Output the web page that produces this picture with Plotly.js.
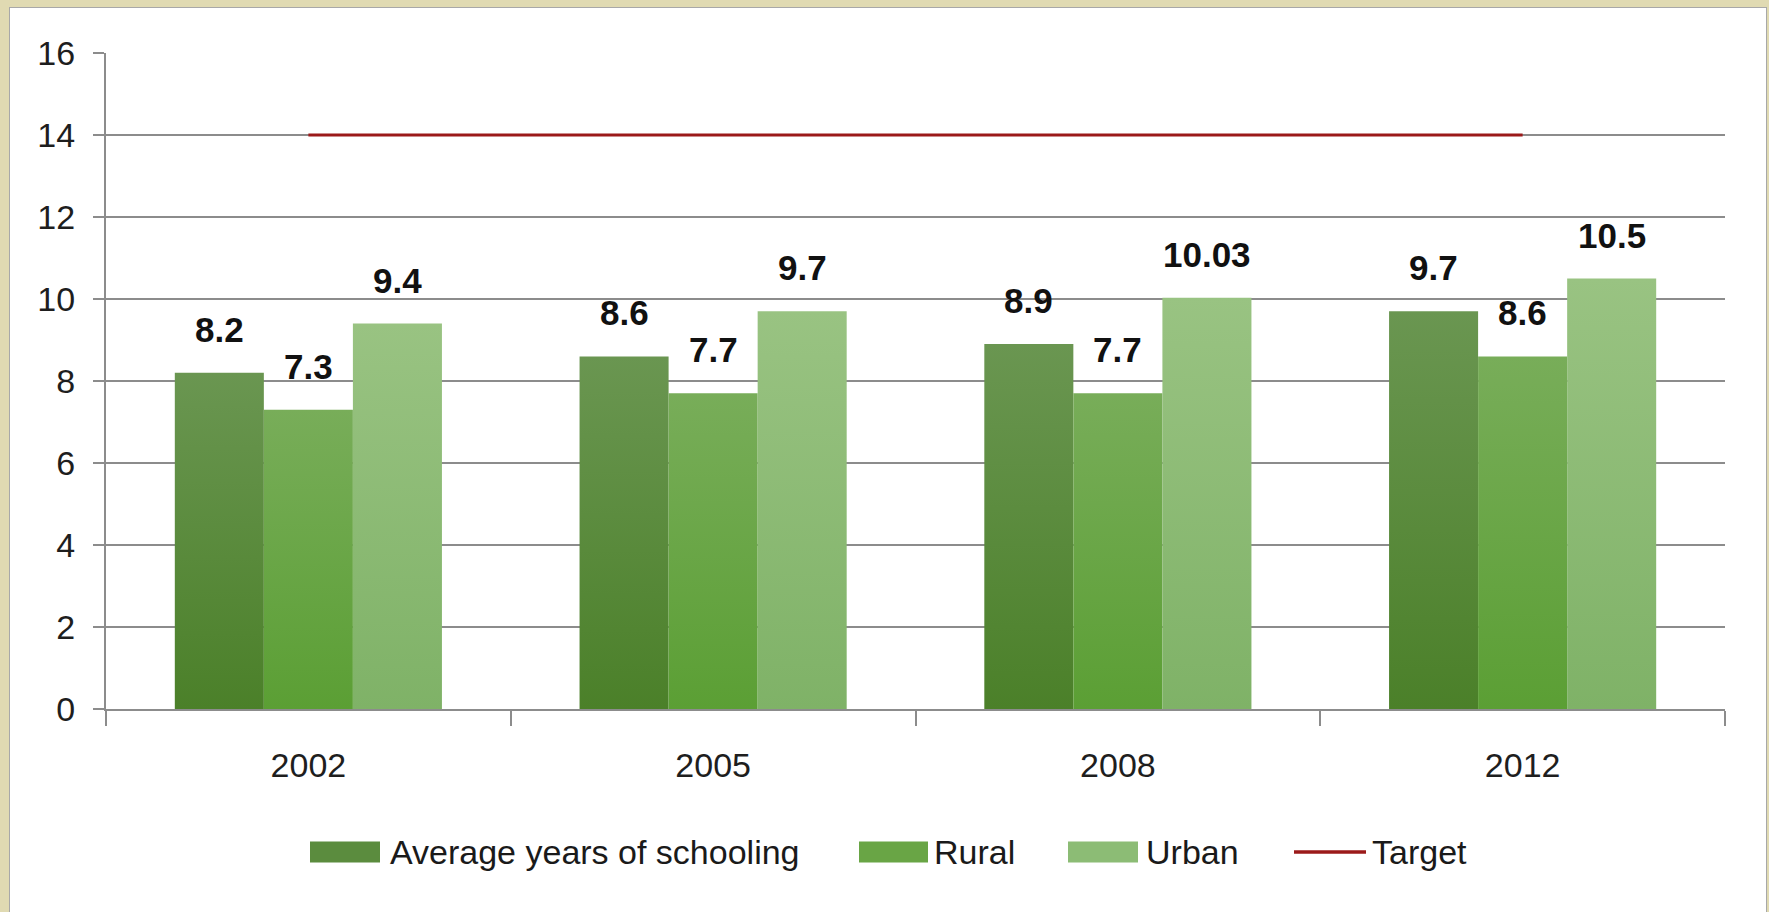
<!DOCTYPE html>
<html>
<head>
<meta charset="utf-8">
<script src="https://cdn.plot.ly/plotly-3.0.1.min.js"></script>
<style>
  html, body { margin: 0; padding: 0; background: #e0dab2; width: 1769px; height: 912px; overflow: hidden; }
  #chart { position: absolute; left: 10px; top: 8px; width: 1756px; height: 904px; background: #ffffff; outline: 1px solid #a8a8a8; }
</style>
</head>
<body>
<div id="chart"></div>
<script>
// ---- data ----
const years = ["2002", "2005", "2008", "2012"];
const seriesNames = ["Average years of schooling", "Rural", "Urban", "Target"];
const averageYears = [8.2, 8.6, 8.9, 9.7];
const rural = [7.3, 7.7, 7.7, 8.6];
const urban = [9.4, 9.7, 10.03, 10.5];
const target = [14, 14, 14, 14];
const labelText = {
  avg: ["8.2", "8.6", "8.9", "9.7"],
  rural: ["7.3", "7.7", "7.7", "8.6"],
  urban: ["9.4", "9.7", "10.03", "10.5"]
};

// ---- style ----
const barColors = ["#5b8c3e", "#69a545", "#8cbc75"];
const gradTop = ["#6a9651", "#78ad59", "#99c382"];
const gradBot = ["#4b8029", "#5b9f34", "#7fb267"];
const targetColor = "#9b1a1a";
const gridColor = "#8c8c8c";
const textFont = "'Liberation Sans', Arial, sans-serif";
const boldFont = "'Liberation Sans', Arial, sans-serif";

// plot geometry (absolute page px) for paper-coord helpers
const PL = 106, PR = 1725, PT = 53, PB = 709;
const px = x => (x - PL) / (PR - PL);
const py = y => (PB - y) / (PB - PT);

const bargap = 0.34;
const nBars = 3;
const bw = (1 - bargap) / nBars;

const barSeries = [averageYears, rural, urban];
const labelSeries = [labelText.avg, labelText.rural, labelText.urban];

const traces = barSeries.map((vals, i) => ({
  type: "bar",
  name: seriesNames[i],
  x: years,
  y: vals,
  marker: { color: barColors[i], line: { width: 0 } },
  hoverinfo: "skip"
}));
traces.push({
  type: "scatter",
  mode: "lines",
  name: seriesNames[3],
  x: years,
  y: target,
  line: { color: targetColor, width: 3 },
  hoverinfo: "skip"
});

const annotations = [];
barSeries.forEach((vals, i) => {
  vals.forEach((v, j) => {
    annotations.push({
      xref: "x", yref: "y",
      x: j + (i - 1) * bw,
      y: v,
      text: labelSeries[i][j],
      showarrow: false,
      yanchor: "bottom",
      xanchor: "center",
      yshift: 22,
      font: { family: boldFont, size: 35, color: "#111111", weight: "bold" }
    });
  });
});

// custom legend
const legendItems = [
  { kind: "rect", x0: 310, x1: 380, tx: 388, color: barColors[0], name: seriesNames[0] },
  { kind: "rect", x0: 859, x1: 928, tx: 932, color: barColors[1], name: seriesNames[1] },
  { kind: "rect", x0: 1068, x1: 1138, tx: 1144, color: barColors[2], name: seriesNames[2] },
  { kind: "line", x0: 1294, x1: 1366, tx: 1370, color: targetColor, name: seriesNames[3] }
];
const legendY = 852;
const shapes = [];
legendItems.forEach(it => {
  if (it.kind === "rect") {
    shapes.push({ type: "rect", xref: "paper", yref: "paper",
      x0: px(it.x0), x1: px(it.x1), y0: py(legendY + 10.5), y1: py(legendY - 10.5),
      fillcolor: it.color, line: { width: 0 } });
  } else {
    shapes.push({ type: "line", xref: "paper", yref: "paper",
      x0: px(it.x0), x1: px(it.x1), y0: py(legendY), y1: py(legendY),
      line: { color: it.color, width: 3.5 } });
  }
  annotations.push({
    xref: "paper", yref: "paper", x: px(it.tx), y: py(legendY),
    xanchor: "left", yanchor: "middle", showarrow: false,
    text: it.name, font: { family: textFont, size: 34, color: "#1a1a1a" }
  });
});

const layout = {
  width: 1756, height: 904,
  margin: { l: 96, r: 41, t: 45, b: 203 },
  paper_bgcolor: "rgba(0,0,0,0)",
  plot_bgcolor: "rgba(0,0,0,0)",
  barmode: "group",
  bargap: bargap,
  bargroupgap: 0,
  showlegend: false,
  xaxis: {
    type: "category",
    tickson: "boundaries",
    ticks: "outside", ticklen: 15, tickwidth: 2, tickcolor: gridColor,
    showline: true, linecolor: gridColor, linewidth: 2,
    showgrid: false, zeroline: false,
    tickfont: { family: textFont, size: 34, color: "#1e1e1e" },
    ticklabelstandoff: 25
  },
  yaxis: {
    range: [0, 16], dtick: 2, tick0: 0,
    ticks: "outside", ticklen: 11, tickwidth: 2, tickcolor: gridColor,
    showline: true, linecolor: gridColor, linewidth: 2,
    showgrid: true, gridcolor: gridColor, gridwidth: 2,
    zeroline: false,
    tickfont: { family: textFont, size: 34, color: "#1e1e1e" },
    ticklabelstandoff: 11
  },
  shapes: shapes,
  annotations: annotations
};

Plotly.newPlot("chart", traces, layout, { staticPlot: true, displayModeBar: false }).then(gd => {
  // vertical gradient fill on bars
  const svg = gd.querySelector("svg.main-svg");
  const ns = "http://www.w3.org/2000/svg";
  let defs = svg.querySelector("defs");
  if (!defs) { defs = document.createElementNS(ns, "defs"); svg.insertBefore(defs, svg.firstChild); }
  gradTop.forEach((c, i) => {
    const g = document.createElementNS(ns, "linearGradient");
    g.setAttribute("id", "bargrad" + i);
    g.setAttribute("x1", "0"); g.setAttribute("y1", "0");
    g.setAttribute("x2", "0"); g.setAttribute("y2", "1");
    const s1 = document.createElementNS(ns, "stop");
    s1.setAttribute("offset", "0"); s1.setAttribute("stop-color", c);
    const s2 = document.createElementNS(ns, "stop");
    s2.setAttribute("offset", "1"); s2.setAttribute("stop-color", gradBot[i]);
    g.appendChild(s1); g.appendChild(s2); defs.appendChild(g);
  });
  gd.querySelectorAll(".barlayer .trace").forEach((t, i) => {
    t.querySelectorAll("path").forEach(p => { p.style.fill = "url(#bargrad" + i + ")"; });
  });
});
</script>
</body>
</html>
